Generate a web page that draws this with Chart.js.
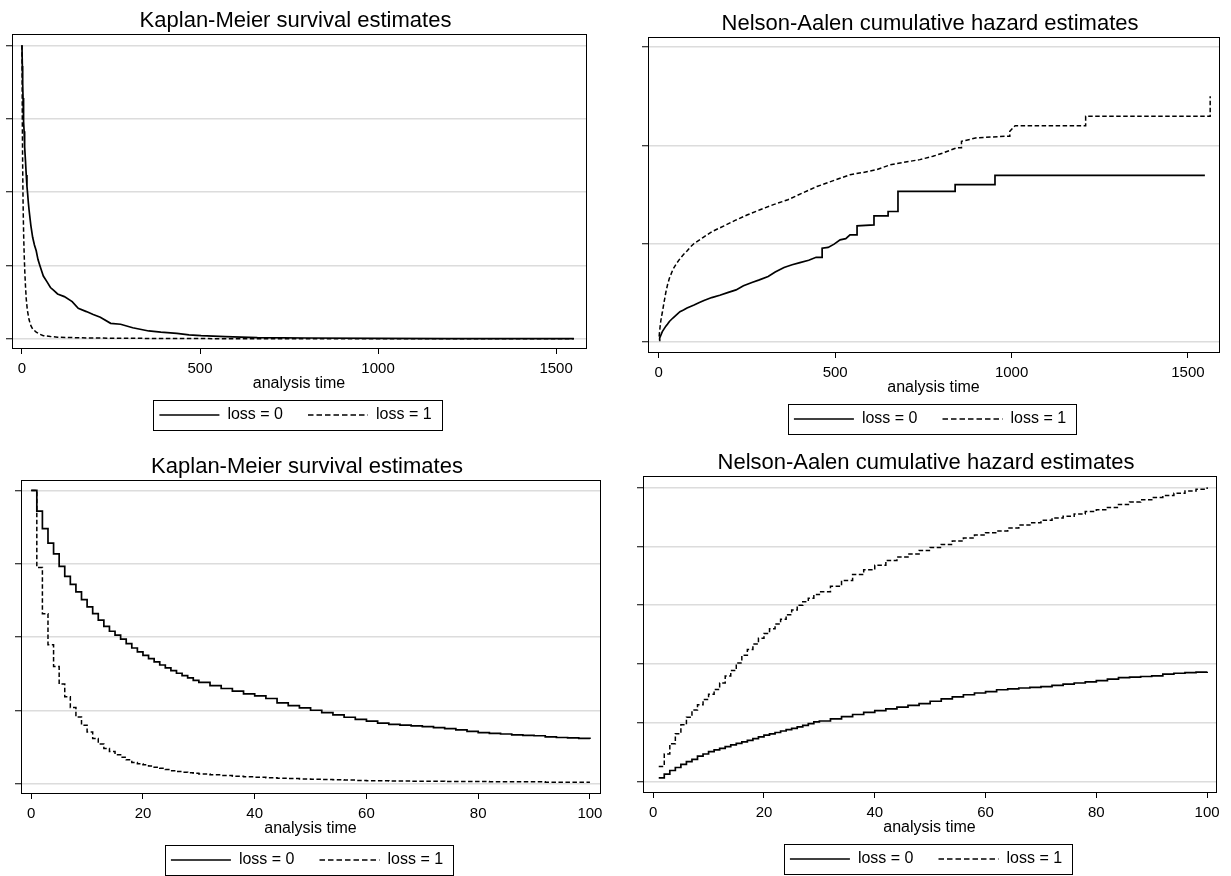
<!DOCTYPE html>
<html>
<head>
<meta charset="utf-8">
<script src="https://cdn.jsdelivr.net/npm/chart.js@4.4.0/dist/chart.umd.min.js"></script>
<style>
  html, body { margin: 0; padding: 0; background: #fff; overflow: hidden; }
  body { width: 1231px; height: 876px; position: relative; }
  canvas { position: absolute; }
</style>
</head>
<body>
<canvas id="kmLong"></canvas>
<canvas id="naLong"></canvas>
<canvas id="kmShort"></canvas>
<canvas id="naShort"></canvas>
<script>
// series names
const seriesLabels = ['loss = 0', 'loss = 1'];

// Kaplan-Meier, whole follow-up (top left)
const kmLongTime0 = [0, 1, 2, 3, 4, 5, 6, 7, 8, 10, 12, 14, 16, 18, 20, 25, 30, 35, 40, 45, 50, 55, 60, 70, 80, 90, 100,
  119, 141, 158, 181, 200, 220, 249, 277, 311, 356, 390, 435, 469, 503, 571, 661, 800, 1000, 1200, 1550];
const kmLongSurv0 = [1, .929, .87, .82, .784, .741, .707, .68, .654, .603, .558, .52, .493, .463, .438, .386, .346, .32, .3, .27, .251, .232, .214, .195, .175, .164, .153,
  .144, .127, .104, .093, .083, .074, .053, .05, .038, .027, .023, .019, .014, .011, .008, .004, .003, .002, .001, .001];
const kmLongTime1 = [0, 1, 2, 3, 4, 5, 6, 7, 8, 10, 12, 15, 20, 25, 30, 40, 50, 60, 80, 100, 150, 200, 300, 500, 700, 1000, 1550];
const kmLongSurv1 = [1, .737, .58, .474, .4, .34, .297, .26, .228, .177, .136, .099, .065, .045, .034, .023, .016, .011, .008, .006, .004, .003, .002, .001, .0005, .0003, .0002];

// Nelson-Aalen, whole follow-up (top right); repeated times are the big jumps
const naLongTime0 = [1, 2, 3, 5, 7, 10, 15, 20, 25, 30, 40, 50, 60, 70, 80, 90, 100, 115, 128, 150, 173, 195, 219,
  240, 264, 285, 310, 330, 355, 378, 400, 425, 446, 463, 463, 480, 497, 514, 530, 542, 562, 562, 610, 610, 650, 650,
  678, 678, 840, 840, 953, 953, 1548];
const naLongHaz0 = [.071, .135, .195, .3, .385, .515, .655, .795, .91, 1.035, 1.21, 1.37, 1.535, 1.62, 1.72, 1.8, 1.87, 2.0, 2.1, 2.25, 2.37, 2.5, 2.64,
  2.85, 3.02, 3.15, 3.32, 3.55, 3.78, 3.92, 4.03, 4.15, 4.3, 4.3, 4.76, 4.8, 4.97, 5.19, 5.25, 5.44, 5.44, 5.9, 5.95, 6.41, 6.41, 6.63,
  6.63, 7.65, 7.65, 8.0, 8.0, 8.47, 8.47];
const naLongTime1 = [1, 2, 3, 5, 7, 10, 15, 20, 25, 30, 40, 50, 60, 70, 80, 90, 100, 125, 151, 185, 219, 250, 287, 325, 366,
  405, 448, 495, 542, 580, 617, 655, 684, 740, 777, 806, 844, 858, 858, 901, 986, 995, 995, 1010, 1210, 1210, 1563, 1563];
const naLongHaz1 = [.263, .476, .65, .97, 1.22, 1.49, 2.02, 2.52, 2.92, 3.23, 3.68, 3.98, 4.23, 4.44, 4.62, 4.83, 5.0, 5.3, 5.61, 5.9, 6.2, 6.45, 6.72, 6.98, 7.23,
  7.55, 7.9, 8.2, 8.5, 8.62, 8.76, 9.0, 9.1, 9.27, 9.44, 9.61, 9.87, 9.87, 10.2, 10.38, 10.46, 10.46, 10.71, 11.0, 11.0, 11.48, 11.48, 12.5];

// first 100 days (bottom row)
const kmShortTime = [0, 1, 2, 3, 4, 5, 6, 7, 8, 9, 10, 11, 12, 13, 14, 15, 16, 17, 18, 19, 20, 21, 22, 23, 24, 25, 26, 27, 28, 29, 30,
  32, 34, 36, 38, 40, 42, 44, 46, 48, 50, 52, 54, 56, 58, 60, 62, 64, 66, 68, 70, 72, 74, 76, 78, 80, 82, 84, 86, 88, 90, 92, 94, 96, 98, 100];
const kmShortSurv0 = [1.000, .929, .870, .820, .784, .741, .707, .680, .654, .628, .603, .580, .558, .537, .520, .507, .493, .478, .463, .450,
  .438, .427, .416, .405, .395, .386, .377, .369, .361, .353, .346,
  .335, .325, .316, .307, .300, .291, .276, .267, .259, .251, .243, .235, .227, .220, .214, .207, .203, .200, .198, .195,
  .192, .188, .184, .179, .175, .172, .170, .167, .165, .164, .160, .158, .157, .155, .153];
const kmShortSurv1 = [1.000, .737, .580, .474, .400, .340, .297, .260, .228, .200, .177, .155, .136, .121, .110, .099, .091, .082, .073, .069,
  .065, .061, .057, .053, .049, .045, .042, .040, .038, .036, .034,
  .031, .029, .026, .024, .023, .021, .019, .018, .017, .016, .015, .014, .013, .012, .011, .011, .010, .010, .009, .009,
  .009, .008, .008, .008, .008, .007, .007, .007, .007, .007, .006, .006, .006, .006, .006];
const naShortTime = [1, 2, 3, 4, 5, 6, 7, 8, 9, 10, 11, 12, 13, 14, 15, 16, 17, 18, 19, 20, 21, 22, 23, 24, 25, 26, 27, 28, 29, 30,
  32, 34, 36, 38, 40, 42, 44, 46, 48, 50, 52, 54, 56, 58, 60, 62, 64, 66, 68, 70, 72, 74, 76, 78, 80, 82, 84, 86, 88, 90, 92, 94, 96, 98, 100];
const naShortHaz0 = [.071, .135, .195, .246, .300, .345, .385, .440, .475, .515, .545, .570, .600, .630, .655, .680, .705, .735, .765, .795,
  .815, .840, .865, .890, .910, .935, .960, .990, 1.020, 1.035,
  1.070, 1.110, 1.145, 1.180, 1.210, 1.240, 1.270, 1.300, 1.330, 1.370, 1.410, 1.445, 1.480, 1.510, 1.535, 1.565, 1.580, 1.595, 1.605, 1.620,
  1.640, 1.660, 1.680, 1.700, 1.720, 1.745, 1.770, 1.780, 1.790, 1.800, 1.830, 1.845, 1.855, 1.865, 1.870];
const naShortHaz1 = [.263, .476, .650, .820, .970, 1.100, 1.220, 1.310, 1.400, 1.490, 1.570, 1.680, 1.800, 1.890, 2.020, 2.150, 2.250, 2.340, 2.440, 2.520,
  2.600, 2.680, 2.760, 2.840, 2.920, 3.000, 3.060, 3.120, 3.180, 3.230,
  3.320, 3.420, 3.520, 3.600, 3.680, 3.760, 3.820, 3.870, 3.930, 3.980, 4.030, 4.090, 4.140, 4.190, 4.230, 4.260, 4.310, 4.360, 4.400, 4.440,
  4.480, 4.510, 4.550, 4.590, 4.620, 4.660, 4.710, 4.750, 4.790, 4.830, 4.860, 4.900, 4.940, 4.970, 5.000];

// tick values
const xTicksLong = [0, 500, 1000, 1500];
const xTicksShort = [0, 20, 40, 60, 80, 100];
const kmTicks = [0, .25, .5, .75, 1];
const naLongTicks = [0, 5, 10, 15];
const naShortTicks = [0, 1, 2, 3, 4, 5];

Chart.defaults.font.family = "'Liberation Sans', Arial, Helvetica, sans-serif";
Chart.defaults.color = '#000';

// outline around plot region and legend
const frames = {
  id: 'frames',
  afterDraw(chart) {
    const ctx = chart.ctx, a = chart.chartArea;
    ctx.save();
    ctx.strokeStyle = '#000';
    ctx.lineWidth = 1;
    ctx.strokeRect(Math.round(a.left) + 0.5, Math.round(a.top) + 0.5,
      Math.round(a.right - a.left), Math.round(a.bottom - a.top));
    const hb = chart.legend.legendHitBoxes;
    const first = hb[0], last = hb[hb.length - 1];
    const mid = Math.round(first.top + first.height / 2);
    const l = Math.round(first.left - 6), r = Math.round(last.left + last.width + 10);
    ctx.strokeRect(l + 0.5, mid - 15 + 0.5, r - l, 30);
    ctx.restore();
  }
};

function series(times, values, i, stepped) {
  return {
    label: seriesLabels[i],
    data: times.map((t, k) => ({ x: t, y: values[k] })),
    borderColor: '#000',
    borderWidth: i ? 1.5 : 1.7,
    borderDash: i ? [4.5, 2.5] : [],
    pointRadius: 0,
    pointHoverRadius: 0,
    stepped: stepped,
    fill: false
  };
}

function panel(id, box, title, xr, xTicks, yr, yTicks, datasets) {
  const canvas = document.getElementById(id);
  canvas.width = box[2] - box[0] + 25;
  canvas.height = box[3] - box[1] + 115;
  canvas.style.left = (box[0] - 10) + 'px';
  canvas.style.top = (box[1] - 30) + 'px';

  new Chart(canvas, {
    type: 'line',
    data: { datasets },
    options: {
      responsive: false,
      animation: false,
      events: [],
      layout: { padding: { left: 3, right: 15, top: 0, bottom: 0 }, autoPadding: false },
      scales: {
        x: {
          type: 'linear', min: xr[0], max: xr[1],
          afterBuildTicks: ax => { ax.ticks = xTicks.map(v => ({ value: v })); },
          afterFit: ax => { ax.height = 34; },
          grid: { drawOnChartArea: false, drawTicks: true, tickLength: 6, tickColor: '#000', tickWidth: 1 },
          border: { display: true, color: '#000', width: 1 },
          ticks: { padding: 6, font: { size: 15 }, color: '#000', maxRotation: 0, autoSkip: false, callback: v => String(v) },
          title: { display: true, text: 'analysis time', font: { size: 16 }, color: '#000', padding: { top: 0, bottom: -11 } }
        },
        y: {
          type: 'linear', min: yr[0], max: yr[1],
          afterBuildTicks: ax => { ax.ticks = yTicks.map(v => ({ value: v })); },
          afterFit: ax => { ax.width = 7; },
          grid: { color: '#dcdcdc', lineWidth: 1.5, drawTicks: true, tickLength: 6, tickColor: '#000', tickWidth: 1 },
          border: { display: true, color: '#000', width: 1 },
          ticks: { display: false }
        }
      },
      plugins: {
        title: { display: true, text: title, font: { size: 22, weight: 'normal' }, color: '#000', padding: { top: 4, bottom: 0 } },
        legend: {
          position: 'bottom',
          labels: {
            usePointStyle: true,
            pointStyleWidth: 60,
            padding: 25,
            color: '#000',
            font: { size: 16 },
            generateLabels: chart => chart.data.datasets.map((ds, i) => ({
              text: ds.label,
              fillStyle: '#000',
              strokeStyle: '#000',
              fontColor: '#000',
              lineWidth: 1.5,
              lineDash: i ? [5.5, 3] : [],
              pointStyle: 'line',
              hidden: false,
              datasetIndex: i
            }))
          }
        },
        tooltip: { enabled: false }
      }
    },
    plugins: [frames]
  });
}

panel('kmLong', [12, 34, 586, 348], 'Kaplan-Meier survival estimates', [-28, 1584], xTicksLong, [-0.031, 1.037], kmTicks,
  [series(kmLongTime0, kmLongSurv0, 0, false), series(kmLongTime1, kmLongSurv1, 1, false)]);
panel('naLong', [648, 37, 1219, 352], 'Nelson-Aalen cumulative hazard estimates', [-30.6, 1588], xTicksLong, [-0.52, 15.49], naLongTicks,
  [series(naLongTime0, naLongHaz0, 0, false), series(naLongTime1, naLongHaz1, 1, false)]);
panel('kmShort', [21, 480, 600, 793], 'Kaplan-Meier survival estimates', [-1.83, 101.8], xTicksShort, [-0.031, 1.034], kmTicks,
  [series(kmShortTime, kmShortSurv0, 0, true), series(kmShortTime, kmShortSurv1, 1, true)]);
panel('naShort', [643, 476, 1216, 792], 'Nelson-Aalen cumulative hazard estimates', [-1.84, 101.6], xTicksShort, [-0.17, 5.186], naShortTicks,
  [series(naShortTime, naShortHaz0, 0, true), series(naShortTime, naShortHaz1, 1, true)]);
</script>
</body>
</html>
